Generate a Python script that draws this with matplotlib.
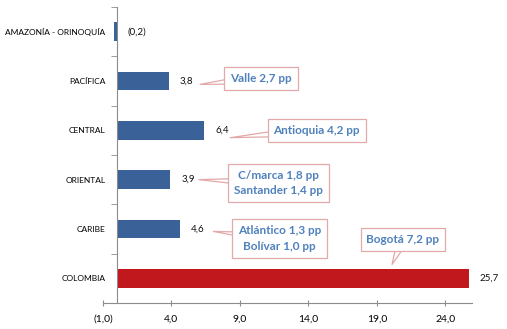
import matplotlib.pyplot as plt
import numpy as np

plt.rcParams['font.family'] = ['Lato', 'DejaVu Sans']

# datos
regiones = ["AMAZONÍA - ORINOQUÍA", "PACÍFICA", "CENTRAL", "ORIENTAL", "CARIBE", "COLOMBIA"]
valores = [-0.2, 3.8, 6.4, 3.9, 4.6, 25.7]
colores = ["#3A6298", "#3A6298", "#3A6298", "#3A6298", "#3A6298", "#C0181C"]
ticks_x = [-1, 4, 9, 14, 19, 24]

# notas de los departamentos: (texto, x caja, y caja, x punta, y punta)
notas = [
    ("Valle 2,7 pp", 10.55, 0.95, 6.1, 1.07),
    ("Antioquia 4,2 pp", 14.6, 2.0, 8.3, 2.15),
    ("C/marca 1,8 pp\nSantander 1,4 pp", 11.8, 3.07, 6.0, 3.0),
    ("Atlántico 1,3 pp\nBolívar 1,0 pp", 11.9, 4.19, 7.06, 4.05),
    ("Bogotá 7,2 pp", 20.9, 4.21, 20.1, 4.72),
]
borde = "#E3A8A8"


def formato(v):
    s = "%.1f" % abs(v)
    s = s.replace(".", ",")
    if v < 0:
        return "(" + s + ")"
    return s


fig = plt.figure(figsize=(5.07, 3.29), dpi=100)
ax = fig.add_axes([0.203, 0.079, 0.727, 0.900])

y = np.arange(len(regiones))
ax.barh(y, valores, height=0.38, color=colores)

for i, v in enumerate(valores):
    ax.annotate(formato(v), xy=(max(v, 0), i), xytext=(8, 0), textcoords="offset points",
                va="center", ha="left", fontsize=7, color="#111111")

for texto, tx, ty, px, py in notas:
    # punta del globo (ancha en la caja, fina en el valor)
    ax.annotate("", xy=(px, py), xytext=(tx, ty), zorder=4,
                arrowprops=dict(arrowstyle="wedge,tail_width=0.8,shrink_factor=0.5",
                                fc="white", ec=borde, lw=0.9, shrinkA=0, shrinkB=0))
    ax.text(tx, ty, texto, ha="center", va="center", zorder=5,
            fontsize=8.5, fontweight="bold", color="#4F81BD", linespacing=1.5,
            bbox=dict(boxstyle="square,pad=0.5", fc="white", ec=borde, lw=0.9))

ax.set_xlim(-1, 25.9)
ax.set_ylim(5.5, -0.5)

ax.spines["top"].set_visible(False)
ax.spines["right"].set_visible(False)
ax.spines["left"].set_position(("data", 0))
ax.spines["left"].set_color("#8C8C8C")
ax.spines["bottom"].set_color("#8C8C8C")

ax.set_yticks(y)
ax.set_yticklabels(regiones, fontsize=6)
ax.set_yticks(np.arange(-0.5, len(regiones), 1.0), minor=True)
ax.tick_params(axis="y", which="major", length=0, pad=8)
ax.tick_params(axis="y", which="minor", length=4, color="#8C8C8C")

ax.set_xticks(ticks_x)
ax.set_xticklabels([formato(t) for t in ticks_x], fontsize=7.5)
ax.tick_params(axis="x", direction="inout", length=5, color="#8C8C8C", pad=6)

fig.savefig("out.png", dpi=100)
